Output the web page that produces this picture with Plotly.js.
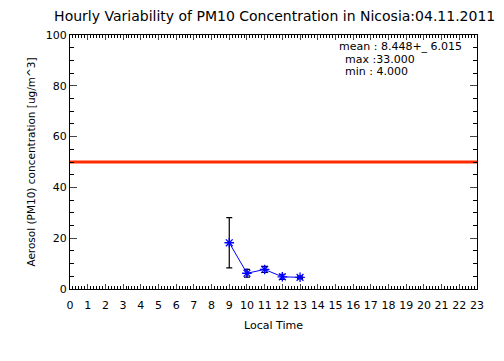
<!DOCTYPE html>
<html><head><meta charset="utf-8">
<script src="https://cdn.plot.ly/plotly-3.0.1.min.js"></script>
<style>body{margin:0;background:#fff}#c{width:504px;height:361px}</style>
</head><body><div id="c"></div>
<script>
var hours = [9, 10, 11, 12, 13];
var pm10 = [18.2, 6.2, 7.7, 4.8, 4.6];
var errs = [9.9, 1.5, 1.2, 1.0, 0.5];
var limitValue = 50;
var xTicks = [];
for (var i = 0; i <= 23; i++) xTicks.push(i);
var statsText = ["mean : 8.448+_ 6.015", "max :33.000", "min : 4.000"];

var F = "DejaVu Sans, sans-serif";
var data = [
  {x: [0, 23], y: [limitValue, limitValue], mode: 'lines', line: {color: '#ff2a00', width: 3}, hoverinfo: 'skip', showlegend: false},
  {x: hours, y: pm10, mode: 'lines+markers', line: {color: '#0000ff', width: 1},
   marker: {symbol: 'asterisk-open', size: 8, color: '#0000ff', line: {color: '#0000ff', width: 1.3}},
   error_y: {type: 'data', array: errs, visible: true, color: '#000', thickness: 1.2, width: 3},
   showlegend: false}
];
var layout = {
  width: 504, height: 361,
  margin: {l: 70, r: 27, t: 35, b: 72},
  paper_bgcolor: '#fff', plot_bgcolor: '#fff',
  font: {family: F, color: '#000', size: 11},
  title: {text: 'Hourly Variability of PM10 Concentration in Nicosia:04.11.2011', font: {family: F, size: 14}, x: 0.545, xanchor: 'center', y: 0.955, yanchor: 'middle'},
  xaxis: {range: [0, 23], tickvals: xTicks, ticktext: xTicks.map(String), ticks: 'inside', ticklen: 5, tickwidth: 1,
    mirror: 'ticks', showline: true, linecolor: '#000', linewidth: 1, showgrid: false, zeroline: false,
    tickfont: {size: 11}, ticklabelstandoff: 6,
    minor: {dtick: 1/6, ticks: 'inside', ticklen: 3, tickcolor: '#000', tickwidth: 1, showgrid: false},
    title: {text: 'Local Time', font: {size: 11}, standoff: 10}},
  yaxis: {range: [0, 100], dtick: 20, tick0: 0, ticks: 'inside', ticklen: 7, tickwidth: 1,
    mirror: 'ticks', showline: true, linecolor: '#000', linewidth: 1, showgrid: false, zeroline: false,
    tickfont: {size: 11},
    minor: {dtick: 5, ticks: 'inside', ticklen: 4, tickcolor: '#000', tickwidth: 1, showgrid: false},
    title: {text: 'Aerosol (PM10) concentration [ug/m^3]', font: {size: 10.5}, standoff: 8}},
  annotations: [
    {xref: 'paper', yref: 'paper', x: 0.655, y: 0.955, xanchor: 'left', yanchor: 'middle', showarrow: false, text: statsText[0], font: {size: 11}},
    {xref: 'paper', yref: 'paper', x: 0.67, y: 0.905, xanchor: 'left', yanchor: 'middle', showarrow: false, text: statsText[1], font: {size: 11}},
    {xref: 'paper', yref: 'paper', x: 0.67, y: 0.855, xanchor: 'left', yanchor: 'middle', showarrow: false, text: statsText[2], font: {size: 11}}
  ]
};
Plotly.newPlot('c', data, layout, {displayModeBar: false, staticPlot: true});
</script></body></html>
